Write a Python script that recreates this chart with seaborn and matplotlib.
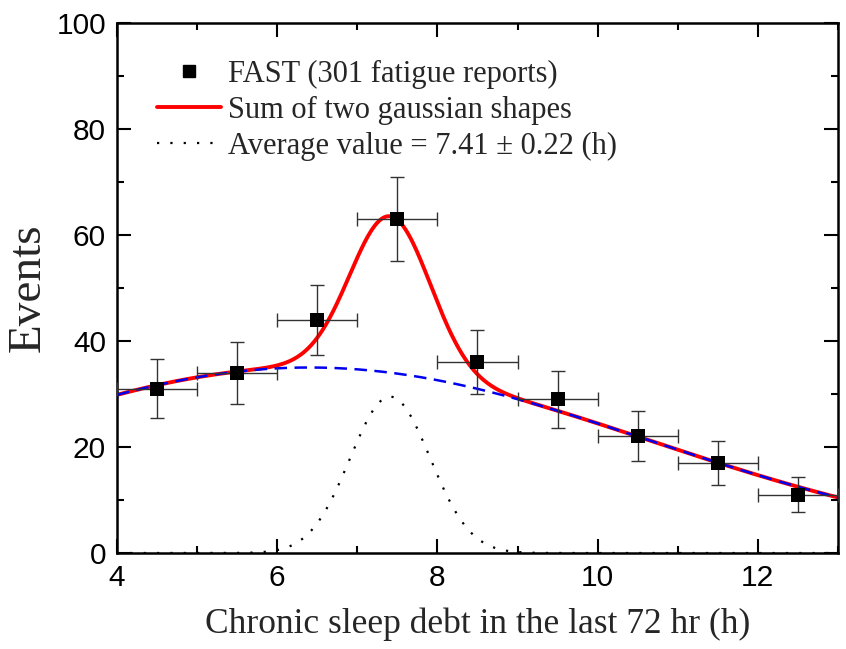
import numpy as np
import pandas as pd
import matplotlib
matplotlib.use("Agg")
import matplotlib.pyplot as plt
from matplotlib.lines import Line2D
from matplotlib.ticker import MultipleLocator
import seaborn as sns

# Binned fatigue reports vs. chronic sleep debt
debt_h = [4.5, 5.5, 6.5, 7.5, 8.5, 9.5, 10.5, 11.5, 12.5]
events = [31, 34, 44, 63, 36, 29, 22, 17, 11]
events_err = [5.6, 5.8, 6.6, 7.9, 6.0, 5.4, 4.7, 4.1, 3.3]
bin_halfwidth = [0.5, 0.5, 0.5, 0.5, 0.5, 0.5, 0.5, 0.5, 0.5]

# Fitted gaussian components: narrow peak + broad background
peak_amp, peak_mu, peak_sigma = 29.5, 7.41, 0.50
bg_amp, bg_mu, bg_sigma = 35.0, 6.40, 4.25

x_range = (4, 13)
y_range = (0, 100)

sns.set_theme(style="ticks")
plt.rcParams["font.family"] = ["Liberation Sans", "DejaVu Sans"]
serif = ["Liberation Serif", "DejaVu Serif"]


def gauss(x, a, mu, s):
    return a * np.exp(-0.5 * ((x - mu) / s) ** 2)


xs = np.linspace(x_range[0], x_range[1], 600)
curves = pd.DataFrame({
    "x": xs,
    "peak": gauss(xs, peak_amp, peak_mu, peak_sigma),
    "background": gauss(xs, bg_amp, bg_mu, bg_sigma),
})
curves["total"] = curves["peak"] + curves["background"]
points = pd.DataFrame({"x": debt_h, "y": events})

fig = plt.figure(figsize=(8.46, 6.49), dpi=100)
ax = fig.add_axes([0.1383, 0.1479, 0.8522, 0.8167])

sns.lineplot(data=curves, x="x", y="total", ax=ax, color="#ff0000", lw=2.8, zorder=2)
sns.lineplot(data=curves, x="x", y="background", ax=ax, color="#0000ee", lw=1.8, zorder=3)
ax.lines[-1].set_linestyle((0, (5, 3)))
sns.lineplot(data=curves, x="x", y="peak", ax=ax, color="black", lw=1.6, zorder=3)
ax.lines[-1].set_linestyle((0, (1, 5)))

ax.errorbar(debt_h, events, xerr=bin_halfwidth, yerr=events_err, fmt="none",
            ecolor="#333333", elinewidth=1.0, capsize=5, capthick=1.0, zorder=4)
sns.scatterplot(data=points, x="x", y="y", ax=ax, marker="s", s=95, color="black",
                edgecolor="black", linewidth=0, zorder=5)

ax.set_xlim(*x_range)
ax.set_ylim(*y_range)
ax.xaxis.set_major_locator(MultipleLocator(2))
ax.xaxis.set_minor_locator(MultipleLocator(1))
ax.yaxis.set_major_locator(MultipleLocator(20))
ax.yaxis.set_minor_locator(MultipleLocator(10))
ax.tick_params(which="both", direction="in", top=True, right=True, width=1.5,
               labelsize=21.5, colors="black", pad=8)
ax.tick_params(which="major", length=10)
ax.tick_params(which="minor", length=5)
for sp in ax.spines.values():
    sp.set_linewidth(1.8)
    sp.set_color("black")

ax.set_xlabel("Chronic sleep debt in the last 72 hr (h)", family=serif, fontsize=25.5, labelpad=11)
ax.set_ylabel("Events", family=serif, fontsize=34, labelpad=5)

handles = [
    Line2D([], [], ls="none", marker="s", ms=9, color="black"),
    Line2D([], [], color="#ff0000", lw=2.8),
    Line2D([], [], color="black", lw=1.6, ls=(0, (1, 5))),
]
labels = [
    "FAST (301 fatigue reports)",
    "Sum of two gaussian shapes",
    "Average value = 7.41 \u00b1 0.22 (h)",
]
ax.legend(handles, labels, loc="upper left", bbox_to_anchor=(0.038, 0.953), frameon=False,
          prop={"family": serif, "size": 22}, handlelength=2.1, handletextpad=0.25,
          labelspacing=0.22, borderaxespad=0)

fig.savefig("out.png", dpi=100)
